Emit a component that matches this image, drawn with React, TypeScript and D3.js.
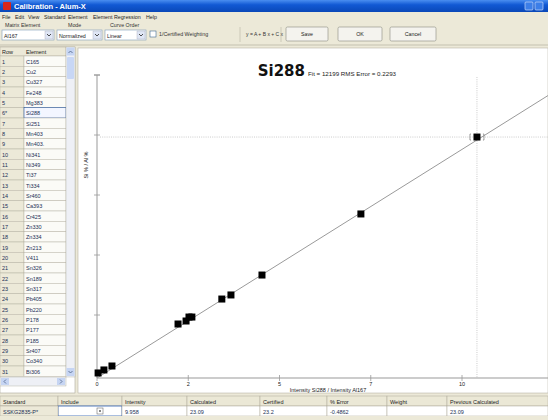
import * as d3 from 'd3';

const ELEMENTS = ['C165', 'Cu2', 'Cu327', 'Fe248', 'Mg383', 'Si288', 'Si251', 'Mn403', 'Mn403.', 'Ni341', 'Ni349', 'Ti37', 'Ti334', 'Sr460', 'Ca393', 'Cr425', 'Zn330', 'Zn334', 'Zn213', 'V411', 'Sn326', 'Sn189', 'Sn317', 'Pb405', 'Pb220', 'P178', 'P177', 'P185', 'Sr407', 'Co340', 'Bi306'];
const ROW_LABELS = ELEMENTS.map((_, i) => (i === 5 ? '6*' : String(i + 1)));

// intensity ratio vs concentration ratio
const X_VALUES = [0.03, 0.19, 0.41, 2.22, 2.44, 2.52, 2.6, 3.42, 3.67, 4.52, 7.23, 10.41];
const Y_VALUES = [0.17, 0.42, 0.75, 4.25, 4.5, 4.83, 4.83, 6.33, 6.67, 8.33, 13.42, 19.83];
const SELECTED = 11;
const FIT_A = -0.25;
const FIT_B = 1.905;

const X_TICKS = [0, 2.5, 5, 7.5, 10];
const X_TICK_LABELS = ['0', '2', '5', '7', '10'];
const Y_TICKS = [0, 5, 10, 15, 20, 25];

const MENU = ['File', 'Edit', 'View', 'Standard', 'Element', 'Element Regression', 'Help'];
const MENU_X = [2, 15, 28, 44, 68, 93, 146];
const TABLE_HEADERS = ['Standard', 'Include', 'Intensity', 'Calculated', 'Certified', '% Error', 'Weight', 'Previous Calculated'];
const TABLE_ROW = ['SSKG2835-P*', '', '9.958', '23.09', '23.2', '-0.4862', '', '23.09'];
const TABLE_COLS = [0, 58, 122, 187, 260, 327, 387, 447, 548];

const UI = 'Liberation Sans, Arial, sans-serif';
const BEIGE = '#ece9d8';
const GRID = '#aca899';

export default function App() {
  const W = 548, H = 420;
  const x = d3.scaleLinear().domain([0, 10]).range([97, 462]);
  const y = d3.scaleLinear().domain([0, 25]).range([375, 75]);
  const xAxisY = 378;
  const xEnd = x.invert(W);
  const fit = d3.line<number>().x(d => x(d)).y(d => y(FIT_A + FIT_B * d));

  const rowY = d3.scaleLinear().domain([0, 30]).range([56, 366]);

  const combos: [number, number, string][] = [[2, 54, 'Al167'], [57, 102, 'Normalized'], [105, 146, 'Linear']];
  const buttons: [number, number, string][] = [[286, 328, 'Save'], [338, 382, 'OK'], [390, 436, 'Cancel']];

  return (
    <svg width={W} height={H} style={{ position: 'fixed', left: 0, top: 0, fontFamily: UI }}>
      <defs>
        <linearGradient id="tb" x1="0" y1="0" x2="0" y2="1">
          <stop offset="0%" stopColor="#4a8ef0" />
          <stop offset="40%" stopColor="#1259d4" />
          <stop offset="100%" stopColor="#0a48b8" />
        </linearGradient>
        <clipPath id="plotclip">
          <rect x={78} y={48} width={W - 78} height={345} />
        </clipPath>
      </defs>
      <rect width={W} height={H} fill={BEIGE} />

      {/* title bar */}
      <rect x={0} y={0} width={W} height={12} fill="url(#tb)" />
      <rect x={3} y={2} width={8} height={8} fill="#d8261a" rx={1} />
      <text x={14} y={9} fill="#fff" fontSize={7.5} fontWeight="bold">Calibration - Alum-X</text>
      <rect x={525} y={2} width={8} height={8} fill="#3c7ee8" stroke="#dfe9fb" strokeWidth={0.6} rx={1} />
      <rect x={535} y={2} width={8} height={8} fill="#3c7ee8" stroke="#dfe9fb" strokeWidth={0.6} rx={1} />

      {/* menu */}
      {MENU.map((m, i) => (
        <text key={m} x={MENU_X[i]} y={19} fontSize={5.3} fill="#222">{m}</text>
      ))}

      {/* toolbar */}
      <text x={5} y={27} fontSize={5.3} fill="#333">Matrix Element</text>
      <text x={68} y={27} fontSize={5.3} fill="#333">Mode</text>
      <text x={110} y={27} fontSize={5.3} fill="#333">Curve Order</text>
      {combos.map(([a, b, t]) => (
        <g key={t}>
          <rect x={a} y={30} width={b - a} height={10} fill="#fff" stroke="#7f9db9" strokeWidth={0.6} />
          <text x={a + 2} y={37.5} fontSize={5.3} fill="#222">{t}</text>
          <rect x={b - 9} y={31} width={8} height={8} fill="#dfe6f5" stroke="#aab" strokeWidth={0.4} />
          <path d={`M${b - 7},34 l2,2 l2,-2`} fill="none" stroke="#222" strokeWidth={0.8} />
        </g>
      ))}
      <rect x={150} y={31} width={6} height={6} fill="#fff" stroke="#1c5180" strokeWidth={0.5} />
      <text x={159} y={36} fontSize={5.3} fill="#333">1/Certified Weighting</text>
      <line x1={240} y1={27} x2={240} y2={42} stroke={GRID} strokeWidth={0.5} />
      <text x={246} y={36} fontSize={5} fill="#333">y = A + B x + C x</text>
      <line x1={281} y1={27} x2={281} y2={42} stroke={GRID} strokeWidth={0.5} />
      {buttons.map(([a, b, t]) => (
        <g key={t}>
          <rect x={a} y={27} width={b - a} height={14} fill="#f4f3ee" stroke="#8a8a80" strokeWidth={0.6} rx={1.5} />
          <text x={(a + b) / 2} y={36} fontSize={5.3} textAnchor="middle" fill="#222">{t}</text>
        </g>
      ))}
      <line x1={0} y1={45} x2={W} y2={45} stroke={GRID} strokeWidth={0.6} />

      {/* left table */}
      <rect x={0} y={47} width={75} height={346} fill="#fff" stroke={GRID} strokeWidth={0.6} />
      <rect x={0} y={47} width={66} height={9} fill={BEIGE} stroke={GRID} strokeWidth={0.5} />
      <text x={2} y={54} fontSize={5.5} fill="#222">Row</text>
      <text x={26} y={54} fontSize={5.5} fill="#222">Element</text>
      {ELEMENTS.map((el, i) => (
        <g key={el + i}>
          <rect x={0} y={rowY(i)} width={24} height={rowY(1) - rowY(0)} fill={BEIGE} stroke={GRID} strokeWidth={0.4} />
          <rect x={24} y={rowY(i)} width={42} height={rowY(1) - rowY(0)} fill={i === 5 ? '#f3f6ff' : '#fbfbf7'} stroke={i === 5 ? '#1f4f96' : GRID} strokeWidth={i === 5 ? 0.6 : 0.4} />
          <text x={2} y={rowY(i) + 7.5} fontSize={5.5} fill="#1b2f55">{ROW_LABELS[i]}</text>
          <text x={26} y={rowY(i) + 7.5} fontSize={5.5} fill="#1b2f55">{el}</text>
        </g>
      ))}
      {/* scrollbars */}
      <rect x={66} y={47} width={9} height={330} fill="#eef0f6" stroke={GRID} strokeWidth={0.4} />
      <rect x={66.5} y={47.5} width={8} height={8} fill="#c6d5f3" />
      <path d="M68.5,53 l2,-2 l2,2" fill="none" stroke="#4d6185" strokeWidth={0.8} />
      <rect x={67} y={57} width={7} height={22} fill="#c8d7f5" rx={1} />
      <rect x={66.5} y={368} width={8} height={8} fill="#c6d5f3" />
      <path d="M68.5,371 l2,2 l2,-2" fill="none" stroke="#4d6185" strokeWidth={0.8} />
      <rect x={0} y={377} width={66} height={9} fill="#eef0f6" stroke={GRID} strokeWidth={0.4} />
      <rect x={1} y={378} width={8} height={7} fill="#c6d5f3" />
      <rect x={57} y={378} width={8} height={7} fill="#c6d5f3" />
      <path d="M6,379.5 l-2,2 l2,2 M60,379.5 l2,2 l-2,2" fill="none" stroke="#4d6185" strokeWidth={0.8} />

      {/* plot area */}
      <rect x={78} y={48} width={W - 78} height={345} fill="#fff" stroke={GRID} strokeWidth={0.5} />
      <text x={305} y={76} textAnchor="end" fontSize={15} fontWeight="bold" fontFamily="DejaVu Sans, sans-serif" fill="#111">Si288</text>
      <text x={308} y={76} fontSize={6.2} fill="#222">Fit = 12199 RMS Error = 0.2293</text>

      <g clipPath="url(#plotclip)">
        {/* crosshair for selected standard */}
        <line x1={x(0) + 3} x2={W} y1={y(Y_VALUES[SELECTED])} y2={y(Y_VALUES[SELECTED])} stroke="#aaa" strokeWidth={0.6} strokeDasharray="1,1.2" />
        <line x1={x(X_VALUES[SELECTED])} x2={x(X_VALUES[SELECTED])} y1={y(25) + 2} y2={xAxisY} stroke="#aaa" strokeWidth={0.6} strokeDasharray="1,1.2" />

        {/* axes */}
        <line x1={x(0)} x2={x(0)} y1={y(25)} y2={xAxisY} stroke="#999" strokeWidth={1} />
        <line x1={x(0) - 3} x2={x(0) + 3} y1={y(25)} y2={y(25)} stroke="#999" strokeWidth={1} />
        <line x1={x(0)} x2={W} y1={xAxisY} y2={xAxisY} stroke="#999" strokeWidth={1} />
        {Y_TICKS.slice(1).map(t => (
          <line key={t} x1={x(0) - 3} x2={x(0) + 3} y1={y(t)} y2={y(t)} stroke="#999" strokeWidth={0.8} />
        ))}
        {X_TICKS.map((t, i) => (
          <g key={t}>
            <line x1={x(t)} x2={x(t)} y1={xAxisY - 3} y2={xAxisY + 3} stroke="#999" strokeWidth={0.8} />
            <text x={x(t)} y={xAxisY + 8} fontSize={5.5} textAnchor="middle" fill="#222">{X_TICK_LABELS[i]}</text>
          </g>
        ))}

        {/* fit line */}
        <path d={fit([0, xEnd]) || ''} fill="none" stroke="#9a9a9a" strokeWidth={1} />

        {/* standards */}
        {X_VALUES.map((v, i) => (
          <rect key={i} x={x(v) - 3.5} y={y(Y_VALUES[i]) - 3.5} width={7} height={7} fill="#000" />
        ))}
        {/* error brackets on selected */}
        <path
          d={`M${x(X_VALUES[SELECTED]) - 6},${y(Y_VALUES[SELECTED]) - 3} h-1 v6 h1 M${x(X_VALUES[SELECTED]) + 6},${y(Y_VALUES[SELECTED]) - 3} h1 v6 h-1`}
          fill="none" stroke="#777" strokeWidth={0.7}
        />
      </g>
      <text transform={`translate(88,${y(17.5)}) rotate(-90)`} textAnchor="middle" fontSize={5.5} fill="#222">Si % / Al %</text>
      <text x={328} y={392} textAnchor="middle" fontSize={5.5} fill="#222">Intensity Si288 / Intensity Al167</text>

      {/* bottom table */}
      {TABLE_HEADERS.map((h, i) => (
        <g key={h}>
          <rect x={TABLE_COLS[i]} y={396} width={TABLE_COLS[i + 1] - TABLE_COLS[i]} height={10} fill="#ebe8d6" stroke={GRID} strokeWidth={0.5} />
          <text x={TABLE_COLS[i] + 3} y={403.5} fontSize={5.5} fill="#222">{h}</text>
          <rect x={TABLE_COLS[i]} y={406} width={TABLE_COLS[i + 1] - TABLE_COLS[i]} height={10} fill="#fff" stroke={i === 1 ? '#2c5cb0' : GRID} strokeWidth={i === 1 ? 0.8 : 0.5} />
          <text x={TABLE_COLS[i] + 3} y={413.5} fontSize={5.5} fill="#1b2f55">{TABLE_ROW[i]}</text>
        </g>
      ))}
      <rect x={0} y={406} width={58} height={10} fill="#ece9d8" stroke={GRID} strokeWidth={0.5} />
      <text x={3} y={413.5} fontSize={5.5} fill="#1b2f55">{TABLE_ROW[0]}</text>
      <rect x={97} y={408} width={6} height={6} fill="#fff" stroke="#555" strokeWidth={0.5} />
      <rect x={99} y={410} width={2} height={2} fill="#888" />
      <rect x={0} y={416} width={W} height={4} fill={BEIGE} />
    </svg>
  );
}
